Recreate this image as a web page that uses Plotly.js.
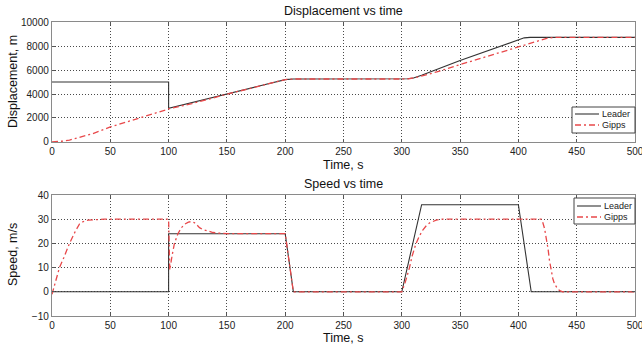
<!DOCTYPE html>
<html><head><meta charset="utf-8">
<script src="https://cdn.plot.ly/plotly-3.0.1.min.js"></script>
<style>html,body{margin:0;padding:0;background:#fff}#c{width:642px;height:345px}</style>
</head><body><div id="c"></div>
<script>
// Displacement data
const leaderDispT = [0,100,100,200,207,300,305,310,317,350,400,405,410,500];
const leaderDispY = [5000,5000,2800,5200,5250,5250,5270,5340,5560,6800,8560,8680,8720,8720];
const gippsDispT = [0,5,10,15,20,25,30,35,50,100,120,150,200,207,300,306,312,321,330,350,375,400,410,420,425,430,435,500];
const gippsDispY = [0,15,80,160,280,410,550,700,1250,2750,3200,3980,5200,5250,5250,5270,5370,5580,5840,6450,7200,7950,8250,8550,8660,8710,8720,8720];
// Speed data
const leaderSpdT = [0,100,100,200,207,300,317,400,411,500];
const leaderSpdY = [0,0,24,24,0,0,36,36,0,0];
const gippsSpdT = [0,3,6.4,10,15,20,23.6,26,28,31,35,40,45,
  100,101,103,105,108,111,114,117,119.5,122,124.5,126.5,129,132,135,138,142,146,150,200,207,
  300,303,306.6,309,312,315,318,321,324,327,329.5,332,335,
  419.5,421,422.5,424,425.5,426.7,428,429.5,431,432.5,434,436,438,500];
const gippsSpdY = [-1,4,10,14,20,25,28,28.8,29.3,29.6,29.8,30,30,
  30,9,15,20,24,26.5,28,28.8,29,28.6,27.5,26.5,25.8,25.3,24.9,24.5,24.3,24.1,24,24,0,
  0,4,10,15,19.7,23,25.5,27.3,28.5,29.2,29.6,29.9,30,
  30,28.5,26,22.5,17.5,12.8,9,5.5,3.2,2,1,0.4,0,0];
const xTicks = [0,50,100,150,200,250,300,350,400,450,500];
const dispTicks = [0,2000,4000,6000,8000,10000];
const spdTicks = [-10,0,10,20,30,40];
const seriesNames = ['Leader','Gipps'];

const leaderLine = {color:'#333333', width:1.1};
const gippsLine = {color:'#e8484a', width:1.3, dash:'6px,3px,2px,3px'};

const traces = [
  {x:leaderDispT, y:leaderDispY, name:seriesNames[0], mode:'lines', line:leaderLine, xaxis:'x', yaxis:'y'},
  {x:gippsDispT, y:gippsDispY, name:seriesNames[1], mode:'lines', line:gippsLine, xaxis:'x', yaxis:'y'},
  {x:leaderSpdT, y:leaderSpdY, name:seriesNames[0], mode:'lines', line:leaderLine, xaxis:'x2', yaxis:'y2'},
  {x:gippsSpdT, y:gippsSpdY, name:seriesNames[1], mode:'lines', line:gippsLine, xaxis:'x2', yaxis:'y2'}
];

// layout helpers: pixel -> paper (plot area l=52, r=635, t=22, b=316)
const L=52, R=635, T=22, B=316;
const px = v => (v-L)/(R-L);
const py = v => (B-v)/(B-T);

const font = {family:'Liberation Sans, Arial, sans-serif', color:'#111'};
const axBase = {
  showline:true, mirror:'ticks', linecolor:'#8a8a8a', linewidth:1.2,
  showgrid:true, gridcolor:'#4a4a4a', griddash:'1px,2px', gridwidth:1,
  zeroline:false, ticks:'inside', ticklen:3, tickcolor:'#555', tickwidth:1, tickmode:'array',
  ticklabeloverflow:'allow',
  tickfont:{family:font.family, size:10, color:'#222'}
};

// custom compact legends
const shapes = [];
const annotations = [
  {text:'Displacement vs time', xref:'paper', yref:'paper', x:0.5, y:1, yshift:2, xanchor:'center', yanchor:'bottom', showarrow:false, font:{size:12.5}},
  {text:'Speed vs time', xref:'paper', yref:'paper', x:0.5, y:py(195), yshift:2, xanchor:'center', yanchor:'bottom', showarrow:false, font:{size:12.5}},
  {text:'Time, s', xref:'paper', yref:'paper', x:0.5, y:py(142), yshift:-14, xanchor:'center', yanchor:'top', showarrow:false, font:{size:12.5}},
  {text:'Time, s', xref:'paper', yref:'paper', x:0.5, y:0, yshift:-13, xanchor:'center', yanchor:'top', showarrow:false, font:{size:12.5}},
  {text:'Displacement, m', xref:'paper', yref:'paper', x:0, xshift:-39, y:py(82), xanchor:'center', yanchor:'middle', textangle:-90, showarrow:false, font:{size:12.5}},
  {text:'Speed, m/s', xref:'paper', yref:'paper', x:0, xshift:-39, y:py(255), xanchor:'center', yanchor:'middle', textangle:-90, showarrow:false, font:{size:12.5}}
];
function addLegend(x0, y0, x1, y1, rows) {
  shapes.push({type:'rect', xref:'paper', yref:'paper', x0:px(x0), x1:px(x1), y0:py(y0), y1:py(y1),
    fillcolor:'#fff', line:{color:'#444', width:1}, layer:'above'});
  const styles = [leaderLine, gippsLine];
  rows.forEach((ry, i) => {
    shapes.push({type:'line', xref:'paper', yref:'paper', x0:px(x0+3), x1:px(x0+27), y0:py(ry), y1:py(ry),
      line:{color:styles[i].color, width:styles[i].width, dash:styles[i].dash||'solid'}, layer:'above'});
    annotations.push({text:seriesNames[i], xref:'paper', yref:'paper', x:px(x0+28), y:py(ry), xanchor:'left', yanchor:'middle',
      showarrow:false, font:{size:9, color:'#222'}});
  });
}
addLegend(572, 107, 635, 133, [114, 125]);
addLegend(574, 198, 635, 224, [206, 217]);

const layout = {
  width:642, height:345,
  margin:{l:L, r:642-R, t:T, b:345-B},
  paper_bgcolor:'#fff', plot_bgcolor:'#fff',
  font:font, showlegend:false,
  xaxis: Object.assign({}, axBase, {domain:[0,1], anchor:'y', range:[-0.01,500.01], tickvals:xTicks, ticktext:xTicks.map(String)}),
  yaxis: Object.assign({}, axBase, {domain:[py(142),1], anchor:'x', range:[-1,10001], tickvals:dispTicks, ticktext:dispTicks.map(String)}),
  xaxis2: Object.assign({}, axBase, {domain:[0,1], anchor:'y2', range:[-0.01,500.01], tickvals:xTicks, ticktext:xTicks.map(String)}),
  yaxis2: Object.assign({}, axBase, {domain:[0,py(195)], anchor:'x2', range:[-10.001,40.001], tickvals:spdTicks, ticktext:spdTicks.map(v => v<0 ? '\u2212'+Math.abs(v) : String(v))}),
  shapes:shapes,
  annotations:annotations
};
Plotly.newPlot('c', traces, layout, {displayModeBar:false, staticPlot:true});
</script></body></html>
